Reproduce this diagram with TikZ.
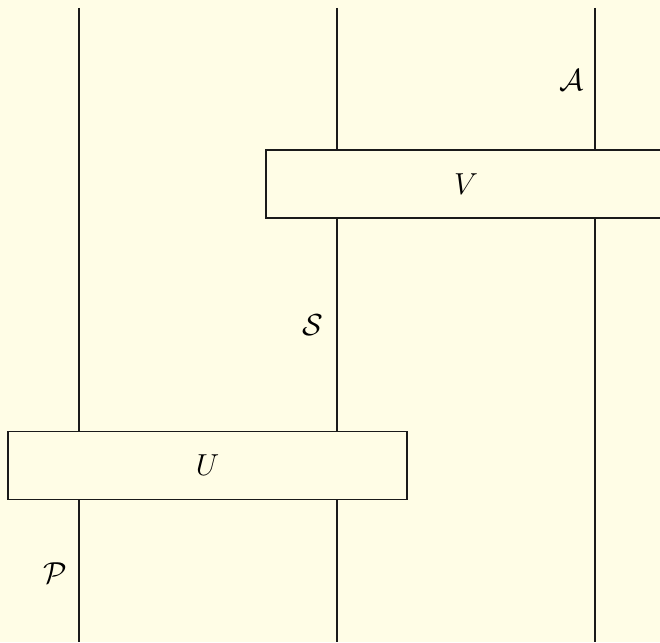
\documentclass[tikz,border=0pt]{standalone}
\usepackage{amsmath,amssymb}
\usepackage{tikz}
\usetikzlibrary{calc,positioning}
\definecolor{CircBg}{HTML}{FFFDE6}
\definecolor{CircInk}{HTML}{1A1A1A}
\tikzset{
  wire/.style={draw=CircInk,line width=0.8pt},
  gatebox/.style={draw=CircInk,line width=0.8pt,fill=CircBg,minimum height=1.36cm,inner sep=0pt,font=\LARGE},
  wirelabel/.style={font=\LARGE,inner sep=0pt}
}

\begin{document}
\begin{tikzpicture}
  \useasboundingbox[fill=CircBg] (0,0) rectangle (13.2,12.84);
  \clip (0,0) rectangle (13.2,12.84);
  % gates
  \node[gatebox,minimum width=8cm] (V) at (9.32,9.16) {$V$};
  \node[gatebox,minimum width=7.98cm] (U) at (4.15,3.53) {$U$};
  % wire ends
  \coordinate (Ptop) at (1.58,12.68);
  \coordinate (Pbot) at (1.58,0);
  \coordinate (Stop) at (6.74,12.68);
  \coordinate (Sbot) at (6.74,0);
  \coordinate (Atop) at (11.9,12.68);
  \coordinate (Abot) at (11.9,0);
  \draw[wire] (Ptop) -- (Ptop |- U.north);
  \draw[wire] (Pbot |- U.south) -- (Pbot);
  \draw[wire] (Stop) -- (Stop |- V.north);
  \draw[wire] (Stop |- V.south) -- (Stop |- U.north);
  \draw[wire] (Sbot |- U.south) -- (Sbot);
  \draw[wire] (Atop) -- (Atop |- V.north);
  \draw[wire] (Abot |- V.south) -- (Abot);
  % system labels
  \node[wirelabel] (labA) at (11.44,11.24) {$\mathcal{A}$};
  \node[wirelabel] (labS) at (6.26,6.34) {$\mathcal{S}$};
  \node[wirelabel] (labP) at (1.10,1.38) {$\mathcal{P}$};
\end{tikzpicture}
\end{document}
